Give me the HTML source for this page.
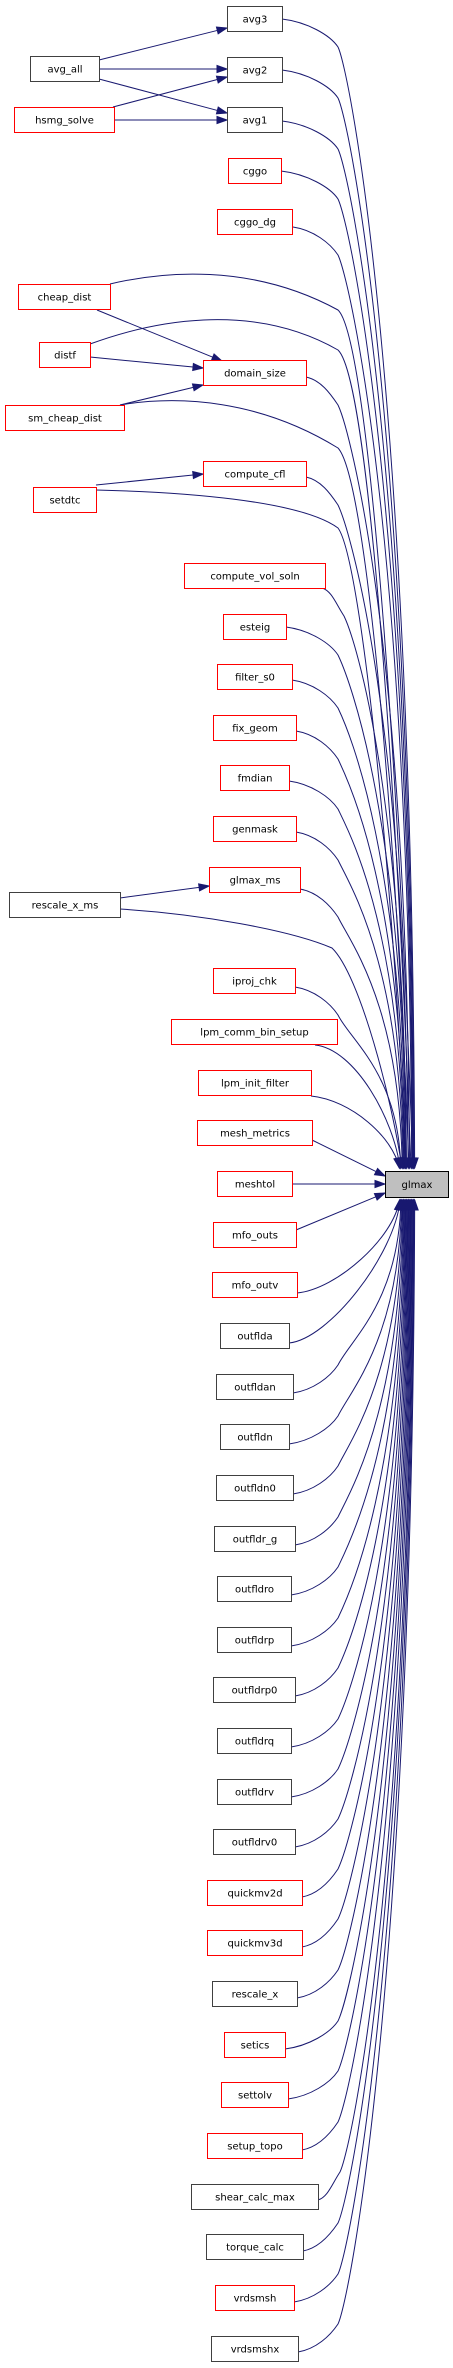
<!DOCTYPE html>
<html><head><meta charset="utf-8">
<style>
html,body{margin:0;padding:0;background:#fff;}
svg{display:block;}
text{font-family:"DejaVu Sans","Liberation Sans",sans-serif;font-size:10px;fill:#000;}
.r{fill:#fff;stroke:#ff0000;stroke-width:1;}
.b{fill:#fff;stroke:#404040;stroke-width:1;}
.g{fill:#bfbfbf;stroke:#000;stroke-width:1;}
.e{fill:none;stroke:#191970;stroke-width:1;}
.a{fill:#191970;stroke:#191970;stroke-width:1;}
</style></head>
<body>
<svg id="s" width="453" height="2368" viewBox="0 0 453 2368" xmlns="http://www.w3.org/2000/svg">
<g id="edges"></g>
<g id="nodes">
<rect class="g" x="385.5" y="1171.5" width="63" height="26"/><text x="417" y="1188" text-anchor="middle">glmax</text>

<rect class="b" x="227.5" y="6.5" width="55" height="25"/><text x="255" y="22.5" text-anchor="middle">avg3</text>
<rect class="b" x="227.5" y="57.5" width="55" height="25"/><text x="255" y="73.5" text-anchor="middle">avg2</text>
<rect class="b" x="227.5" y="107.5" width="55" height="25"/><text x="255" y="123.5" text-anchor="middle">avg1</text>
<rect class="r" x="228.5" y="158.5" width="53" height="25"/><text x="255" y="174.5" text-anchor="middle">cggo</text>
<rect class="r" x="217.5" y="209.5" width="75" height="25"/><text x="255" y="225.5" text-anchor="middle">cggo_dg</text>
<rect class="b" x="30.5" y="56.5" width="69" height="25"/><text x="65" y="72.5" text-anchor="middle">avg_all</text>
<rect class="r" x="14.5" y="107.5" width="100" height="25"/><text x="64.5" y="123.5" text-anchor="middle">hsmg_solve</text>
<rect class="r" x="18.5" y="284.5" width="92" height="25"/><text x="64.5" y="300.5" text-anchor="middle">cheap_dist</text>
<rect class="r" x="39.5" y="342.5" width="51" height="25"/><text x="65" y="358.5" text-anchor="middle">distf</text>
<rect class="r" x="5.5" y="405.5" width="119" height="25"/><text x="65" y="421.5" text-anchor="middle">sm_cheap_dist</text>
<rect class="r" x="203.5" y="360.5" width="103" height="25"/><text x="255" y="376.5" text-anchor="middle">domain_size</text>
<rect class="r" x="203.5" y="461.5" width="103" height="25"/><text x="255" y="477.5" text-anchor="middle">compute_cfl</text>
<rect class="r" x="33.5" y="487.5" width="63" height="25"/><text x="65" y="503.5" text-anchor="middle">setdtc</text>
<rect class="r" x="184.5" y="563.5" width="141" height="25"/><text x="255" y="579.5" text-anchor="middle">compute_vol_soln</text>
<rect class="r" x="223.5" y="614.5" width="63" height="25"/><text x="255" y="630.5" text-anchor="middle">esteig</text>
<rect class="r" x="217.5" y="664.5" width="75" height="25"/><text x="255" y="680.5" text-anchor="middle">filter_s0</text>
<rect class="r" x="213.5" y="715.5" width="83" height="25"/><text x="255" y="731.5" text-anchor="middle">fix_geom</text>
<rect class="r" x="220.5" y="765.5" width="69" height="25"/><text x="255" y="781.5" text-anchor="middle">fmdian</text>
<rect class="r" x="213.5" y="816.5" width="83" height="25"/><text x="255" y="832.5" text-anchor="middle">genmask</text>
<rect class="r" x="209.5" y="867.5" width="91" height="25"/><text x="255" y="883.5" text-anchor="middle">glmax_ms</text>
<rect class="b" x="9.5" y="892.5" width="111" height="25"/><text x="65" y="908.5" text-anchor="middle">rescale_x_ms</text>
<rect class="r" x="213.5" y="968.5" width="82" height="25"/><text x="254.5" y="984.5" text-anchor="middle">iproj_chk</text>
<rect class="r" x="171.5" y="1019.5" width="166" height="25"/><text x="254.5" y="1035.5" text-anchor="middle">lpm_comm_bin_setup</text>
<rect class="r" x="198.5" y="1070.5" width="113" height="25"/><text x="255" y="1086.5" text-anchor="middle">lpm_init_filter</text>
<rect class="r" x="197.5" y="1120.5" width="115" height="25"/><text x="255" y="1136.5" text-anchor="middle">mesh_metrics</text>
<rect class="r" x="217.5" y="1171.5" width="75" height="25"/><text x="255" y="1187.5" text-anchor="middle">meshtol</text>
<rect class="r" x="213.5" y="1222.5" width="83" height="25"/><text x="255" y="1238.5" text-anchor="middle">mfo_outs</text>
<rect class="r" x="212.5" y="1272.5" width="85" height="25"/><text x="255" y="1288.5" text-anchor="middle">mfo_outv</text>
<rect class="b" x="220.5" y="1323.5" width="69" height="25"/><text x="255" y="1339.5" text-anchor="middle">outflda</text>
<rect class="b" x="216.5" y="1374.5" width="77" height="25"/><text x="255" y="1390.5" text-anchor="middle">outfldan</text>
<rect class="b" x="220.5" y="1424.5" width="69" height="25"/><text x="255" y="1440.5" text-anchor="middle">outfldn</text>
<rect class="b" x="216.5" y="1475.5" width="77" height="25"/><text x="255" y="1491.5" text-anchor="middle">outfldn0</text>
<rect class="b" x="214.5" y="1526.5" width="81" height="25"/><text x="255" y="1542.5" text-anchor="middle">outfldr_g</text>
<rect class="b" x="217.5" y="1576.5" width="74" height="25"/><text x="254.5" y="1592.5" text-anchor="middle">outfldro</text>
<rect class="b" x="217.5" y="1627.5" width="74" height="25"/><text x="254.5" y="1643.5" text-anchor="middle">outfldrp</text>
<rect class="b" x="213.5" y="1677.5" width="82" height="25"/><text x="254.5" y="1693.5" text-anchor="middle">outfldrp0</text>
<rect class="b" x="217.5" y="1728.5" width="74" height="25"/><text x="254.5" y="1744.5" text-anchor="middle">outfldrq</text>
<rect class="b" x="217.5" y="1779.5" width="74" height="25"/><text x="254.5" y="1795.5" text-anchor="middle">outfldrv</text>
<rect class="b" x="213.5" y="1829.5" width="82" height="25"/><text x="254.5" y="1845.5" text-anchor="middle">outfldrv0</text>
<rect class="r" x="207.5" y="1880.5" width="95" height="25"/><text x="255" y="1896.5" text-anchor="middle">quickmv2d</text>
<rect class="r" x="207.5" y="1930.5" width="95" height="25"/><text x="255" y="1946.5" text-anchor="middle">quickmv3d</text>
<rect class="b" x="212.5" y="1981.5" width="85" height="25"/><text x="255" y="1997.5" text-anchor="middle">rescale_x</text>
<rect class="r" x="224.5" y="2032.5" width="61" height="25"/><text x="255" y="2048.5" text-anchor="middle">setics</text>
<rect class="r" x="221.5" y="2082.5" width="67" height="25"/><text x="255" y="2098.5" text-anchor="middle">settolv</text>
<rect class="r" x="207.5" y="2133.5" width="95" height="25"/><text x="255" y="2149.5" text-anchor="middle">setup_topo</text>
<rect class="b" x="191.5" y="2184.5" width="127" height="25"/><text x="255" y="2200.5" text-anchor="middle">shear_calc_max</text>
<rect class="b" x="206.5" y="2234.5" width="97" height="25"/><text x="255" y="2250.5" text-anchor="middle">torque_calc</text>
<rect class="r" x="215.5" y="2285.5" width="79" height="25"/><text x="255" y="2301.5" text-anchor="middle">vrdsmsh</text>
<rect class="b" x="211.5" y="2336.5" width="87" height="25"/><text x="255" y="2352.5" text-anchor="middle">vrdsmshx</text>
</g>
</svg>
<script>
(function(){
var g=document.getElementById('edges'),out='';
function arrow(x2,y2,x1,y1){var dx=x2-x1,dy=y2-y1,l=Math.sqrt(dx*dx+dy*dy)||1;dx/=l;dy/=l;
 var L=10,W=3.5,bx=x2-dx*L,by=y2-dy*L;
 out+='<polygon class="a" points="'+x2+','+y2+' '+(bx-dy*W)+','+(by+dx*W)+' '+(bx+dy*W)+','+(by-dx*W)+'"/>';}
function line(x1,y1,x2,y2){var dx=x2-x1,dy=y2-y1,l=Math.sqrt(dx*dx+dy*dy);var ex=x2-dx/l*10,ey=y2-dy/l*10;
 out+='<path class="e" d="M'+x1+','+y1+' L'+ex+','+ey+'"/>';arrow(x2,y2,x1,y1);}
line(99,60,227,28);line(99,69,227,69);line(99,79,227,113);line(113,107,227,77);line(115,120,227,120);
line(97,310,222,361);line(90,357,203,368);line(120,405,203,385);
line(96,485,203,474);line(120,898,209,886);
var R=[[282,19],[282,70],[282,121],[281,171],[293,227],[306,377],[306,477],[322,588],[286,627],[292,680],[296,731],[289,781],[296,832],[300,889],
[295,987],[315,1045],[311,1096],
[297,1293],[289,1343],[293,1393],[289,1444],[293,1494],[295,1545],[291,1595],[291,1646],[295,1696],[291,1747],[291,1797],[295,1847],[302,1897],[302,1947],[297,1998],[285,2049],[288,2099],[302,2150],[318,2200],[303,2251],[294,2302],[298,2352]];
R.forEach(function(p){var xr=p[0],y=p[1],up=y<1184,dy=Math.abs(1184-y);
 var ex=Math.min(417,398+dy/70),ey=up?1168:1200,s=up?1:-1;
 var d;
 if(dy<160){var c2x=ex-6,c2y=ey-s*dy*0.35;d='M'+xr+','+y+' C'+(xr+40)+','+(y+s*4)+' '+c2x+','+c2y+' '+ex+','+ey;arrow(ex,ey,c2x,c2y);}
 else{var kx=Math.max(338,xr+22),ky=y+s*28;var q2x=ex-2,q2y=ky+s*0.3*dy;
  d='M'+xr+','+y+' C'+(xr+(kx-xr)*0.45)+','+(y+s*3)+' '+(kx-8)+','+(ky-s*12)+' '+kx+','+ky+' C'+(kx+12)+','+(ky+s*25)+' '+q2x+','+q2y+' '+ex+','+ey;
  arrow(ex,ey,q2x,q2y);}
 out+='<path class="e" d="'+d+'"/>';});
function arc(d,ex,ey,cx,cy){out+='<path class="e" d="'+d+'"/>';arrow(ex,ey,cx,cy);}
arc('M110,284 C160,272 250,262 338,310 C370,340 400,800 413,1168',413,1168,400,800);
arc('M90,344 C150,322 250,300 338,350 C370,380 398,820 411,1168',411,1168,398,820);
arc('M120,405 C180,395 260,400 338,448 C368,480 398,860 409,1168',409,1168,398,860);
arc('M96,490 C180,492 300,500 338,528 C362,560 395,900 406,1168',406,1168,395,900);
arc('M120,909 C200,914 290,930 332,948 C360,975 392,1100 402,1168',402,1168,392,1100);
line(312,1140,385,1176);line(292,1184,385,1184);line(296,1230,385,1193);
g.innerHTML=out;
})();
</script>
</body></html>
